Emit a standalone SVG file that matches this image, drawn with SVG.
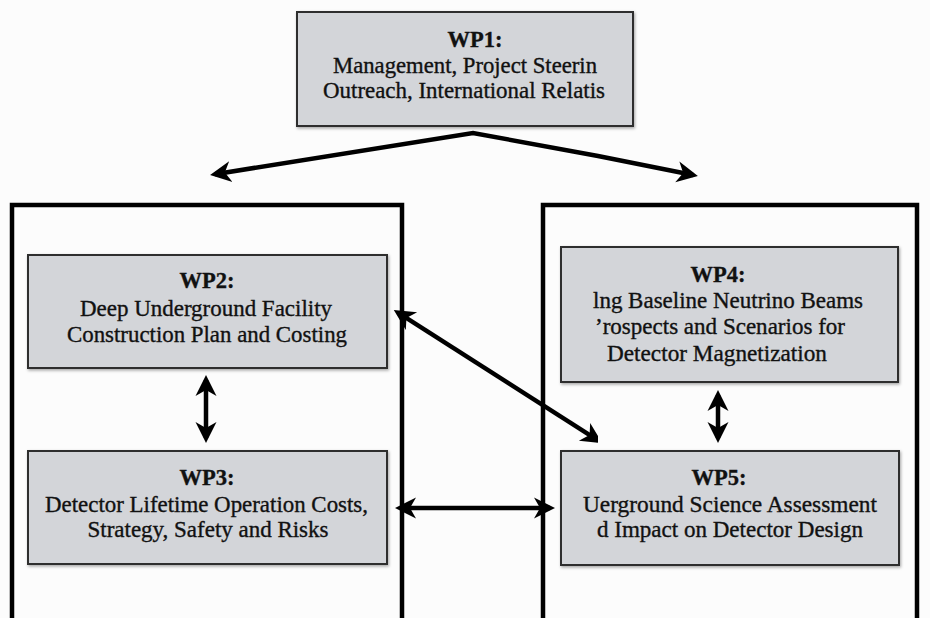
<svg xmlns="http://www.w3.org/2000/svg" width="930" height="618" viewBox="0 0 930 618">
  <defs>
    <style>
      .box { fill: #d3d5d9; stroke: #2e2e2e; stroke-width: 2; filter: url(#sh); }
      .frame { fill: none; stroke: #000; stroke-width: 4.5; }
      .t { font-family: "Liberation Serif", "Times New Roman", serif; font-size: 22.5px; fill: #111; stroke: #111; stroke-width: 0.35; text-anchor: middle; }
      .b { font-weight: bold; }
      .c { fill: none; stroke: #000; stroke-width: 4.5; stroke-linejoin: miter; marker-end: url(#ah); }
      .d { marker-start: url(#ah); }
    </style>
    <filter id="sh" x="-5%" y="-10%" width="110%" height="120%">
      <feDropShadow dx="1" dy="1.5" stdDeviation="1.5" flood-color="#000" flood-opacity="0.35"/>
    </filter>
    <marker id="ah" viewBox="0 -12 24 24" refX="16" refY="0" markerWidth="24" markerHeight="24" markerUnits="userSpaceOnUse" orient="auto-start-reverse">
      <path d="M21,0 L0,-10.5 L6,0 L0,10.5 Z" fill="#000"/>
    </marker>
    <clipPath id="cut"><rect x="0" y="0" width="598" height="618"/></clipPath>
  </defs>
  <rect width="930" height="618" fill="#fcfcfc"/>

  <g id="frame-left"><rect class="frame" x="12" y="205" width="390" height="430"/></g>
  <g id="frame-right"><rect class="frame" x="543" y="205" width="374" height="430"/></g>

  <g id="WP1">
    <rect class="box" x="297" y="12" width="336" height="114"/>
    <text class="t b" x="475" y="47">WP1:</text>
    <text class="t" x="465" y="73" textLength="264" lengthAdjust="spacingAndGlyphs">Management, Project Steerin</text>
    <text class="t" x="464" y="98" textLength="282" lengthAdjust="spacingAndGlyphs">Outreach, International Relatis</text>
  </g>

  <g id="WP2">
    <rect class="box" x="28" y="255" width="359" height="113"/>
    <text class="t b" x="207" y="288">WP2:</text>
    <text class="t" x="206" y="316" textLength="252" lengthAdjust="spacingAndGlyphs">Deep Underground Facility</text>
    <text class="t" x="207" y="342" textLength="280" lengthAdjust="spacingAndGlyphs">Construction Plan and Costing</text>
  </g>

  <g id="WP3">
    <rect class="box" x="28" y="451" width="359" height="113"/>
    <text class="t b" x="207" y="485">WP3:</text>
    <text class="t" x="206.5" y="512" textLength="323" lengthAdjust="spacingAndGlyphs">Detector Lifetime Operation Costs,</text>
    <text class="t" x="208" y="537" textLength="241" lengthAdjust="spacingAndGlyphs">Strategy, Safety and Risks</text>
  </g>

  <g id="WP4">
    <rect class="box" x="561" y="247" width="337" height="135"/>
    <text class="t b" x="718" y="282">WP4:</text>
    <text class="t" x="728" y="308" textLength="270" lengthAdjust="spacingAndGlyphs">lng Baseline Neutrino Beams</text>
    <text class="t" x="720" y="334" textLength="250" lengthAdjust="spacingAndGlyphs">’rospects and Scenarios for</text>
    <text class="t" x="717" y="361" textLength="220" lengthAdjust="spacingAndGlyphs">Detector Magnetization</text>
  </g>

  <g id="WP5">
    <rect class="box" x="561" y="451" width="338" height="114"/>
    <text class="t b" x="719" y="485">WP5:</text>
    <text class="t" x="730" y="512" textLength="294" lengthAdjust="spacingAndGlyphs">Uerground Science Assessment</text>
    <text class="t" x="730" y="537" textLength="266" lengthAdjust="spacingAndGlyphs">d Impact on Detector Design</text>
  </g>

  <g id="connectors">
    <path class="c d" d="M215,174.2 L473,133 L598,156 L693,175"/>
    <path class="c d" d="M206,380 L206,438"/>
    <path class="c d" d="M718,395 L718,438"/>
    <path class="c d" d="M400,508 L550,508"/>
    <path class="c d" d="M398,312.6 L598,440.4" clip-path="url(#cut)"/>
  </g>
</svg>
